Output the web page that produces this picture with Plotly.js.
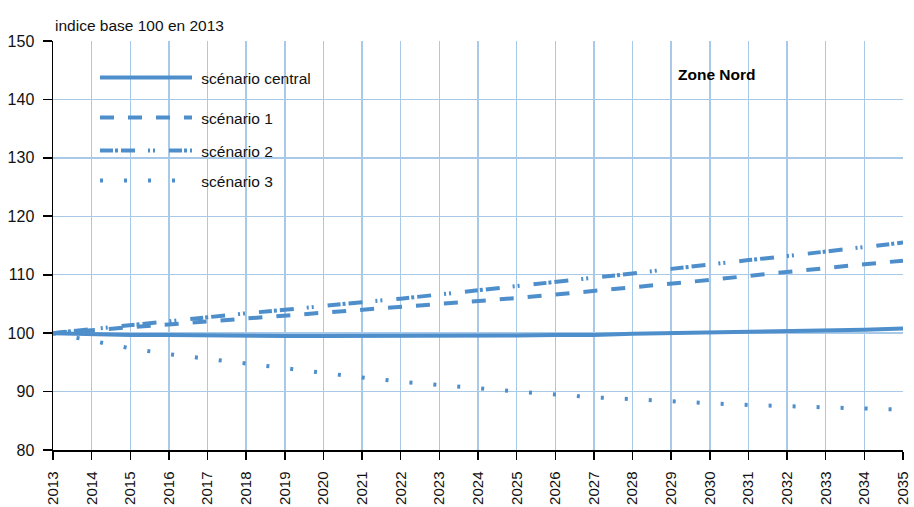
<!DOCTYPE html>
<html>
<head>
<meta charset="utf-8">
<script src="https://cdn.plot.ly/plotly-3.0.1.min.js"></script>
<style>html,body{margin:0;padding:0;background:#fff}#chart{width:914px;height:507px}</style>
</head>
<body>
<div id="chart"></div>
<script>
const years = [2013,2014,2015,2016,2017,2018,2019,2020,2021,2022,2023,2024,2025,2026,2027,2028,2029,2030,2031,2032,2033,2034,2035];
const central = [100,99.8,99.7,99.7,99.6,99.5,99.5,99.5,99.5,99.5,99.5,99.5,99.6,99.7,99.7,99.9,100.0,100.1,100.2,100.3,100.5,100.6,100.8];
const scen1 = [100,100.5,101.0,101.5,102.0,102.4,102.9,103.4,103.9,104.4,104.9,105.5,106.0,106.6,107.2,107.8,108.4,109.1,109.8,110.5,111.1,111.8,112.4];
const scen2 = [100,100.7,101.4,102.0,102.7,103.4,104.0,104.7,105.3,105.9,106.6,107.3,108.0,108.7,109.4,110.2,111.0,111.8,112.5,113.2,114.0,114.8,115.5];
const scen3 = [100,98.7,97.4,96.4,95.6,94.7,93.9,93.1,92.4,91.7,91.1,90.5,90.0,89.5,89.0,88.7,88.3,88.0,87.7,87.5,87.2,87.1,86.9];
const seriesNames = ["scénario central","scénario 1","scénario 2","scénario 3"];
const yTicks = [80,90,100,110,120,130,140,150];

const col = "#4e8fcb";
const font = "Arial, 'Liberation Sans', sans-serif";
const mk = (y, name, dash, leg) => ({
  x: years, y: y, name: "\u00a0" + name, type: "scatter", mode: "lines",
  line: {color: col, width: 4, dash: dash}, legend: leg, hoverinfo: "skip"
});
const traces = [
  mk(central, seriesNames[0], "solid", "legend"),
  mk(scen1, seriesNames[1], "14px,14px", "legend2"),
  mk(scen2, seriesNames[2], "13px,2px,3px,3px,14px,13px,2px,3px,2px,14px", "legend3"),
  mk(scen3, seriesNames[3], "3px,21px", "legend4")
];
const pyToPaper = (py) => 1 - (py - 41) / 409;
const legBase = (ypx) => ({
  xref: "paper", yref: "paper", x: (95 - 53) / 850, y: pyToPaper(ypx),
  xanchor: "left", yanchor: "middle", bgcolor: "rgba(0,0,0,0)",
  itemwidth: 92, font: {family: font, size: 15.5, color: "#111"}, borderwidth: 0
});
const layout = {
  width: 914, height: 507,
  margin: {l: 53, r: 11, t: 41, b: 57},
  paper_bgcolor: "#fff", plot_bgcolor: "#fff",
  showlegend: true,
  legend: legBase(78), legend2: legBase(118), legend3: legBase(151), legend4: legBase(181),
  xaxis: {
    range: [2013, 2035], tickmode: "array", tickvals: years, ticktext: years.map(String),
    tickangle: -90, ticks: "outside", ticklen: 8, tickcolor: "#000", tickwidth: 1.5,
    showline: true, linecolor: "#000", linewidth: 1.5, ticklabelstandoff: 6,
    showgrid: true, gridcolor: "#a9c9e9", gridwidth: 1.5, zeroline: false,
    tickfont: {family: font, size: 15, color: "#111"}, automargin: false
  },
  yaxis: {
    range: [80, 150], tickmode: "array", tickvals: yTicks,
    ticks: "outside", ticklen: 9, tickcolor: "#000", tickwidth: 1.8,
    showline: true, linecolor: "#000", linewidth: 1.5, ticklabelstandoff: 5,
    showgrid: true, gridcolor: "#a9c9e9", gridwidth: 1.5, zeroline: false,
    tickfont: {family: font, size: 16, color: "#111"}, automargin: false
  },
  annotations: [
    {xref: "paper", yref: "paper", x: 0, y: 1, xanchor: "left", yanchor: "bottom", yshift: 5,
     text: "indice base 100 en 2013", showarrow: false, font: {family: font, size: 15.5, color: "#111"}},
    {xref: "paper", yref: "paper", x: (676 - 53) / 850, y: pyToPaper(74), xanchor: "left", yanchor: "middle",
     text: "<b>Zone Nord</b>", showarrow: false, font: {family: font, size: 15.5, color: "#000"}}
  ]
};
Plotly.newPlot("chart", traces, layout, {staticPlot: true, displayModeBar: false});
</script>
</body>
</html>
